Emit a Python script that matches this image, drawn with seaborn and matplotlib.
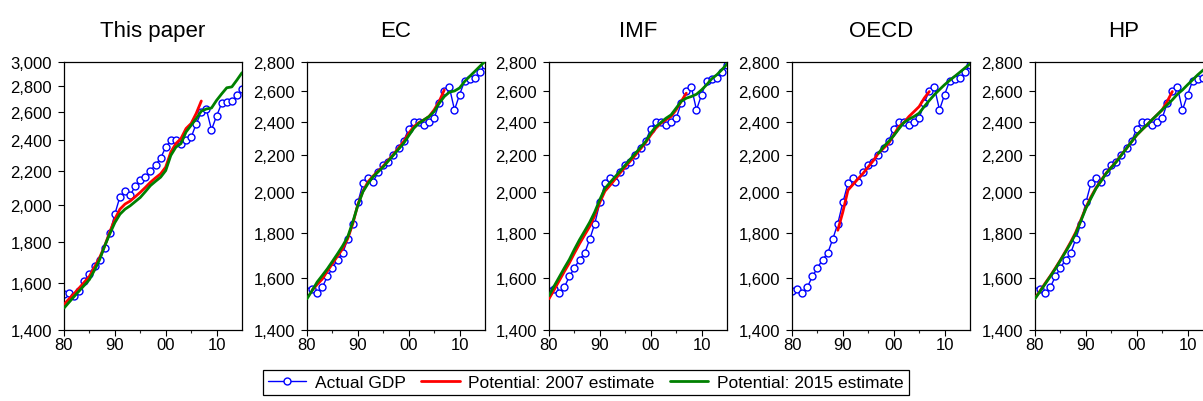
import numpy as np
import pandas as pd
import seaborn as sns
import matplotlib.pyplot as plt
from matplotlib.ticker import FixedLocator, FuncFormatter, NullLocator

# ============================================================
# Data
# ============================================================

years = list(range(1980, 2016))

actual_gdp = [1550, 1557, 1540, 1563, 1608, 1643, 1680, 1707, 1770, 1843,
              1947, 2045, 2076, 2054, 2106, 2145, 2162, 2201, 2240, 2282,
              2355, 2400, 2400, 2379, 2400, 2421, 2517, 2601, 2622, 2474,
              2573, 2667, 2681, 2685, 2728, 2776]

# This paper
paper_2007 = [1505, 1530, 1553, 1578, 1604, 1631, 1675, 1720, 1778, 1850,
              1919, 1974, 2003, 2020, 2045, 2071, 2100, 2131, 2158, 2183,
              2225, 2322, 2379, 2413, 2483, 2519, 2592, 2685]
paper_2015 = [1490, 1515, 1540, 1565, 1590, 1616, 1660, 1710, 1778, 1840,
              1900, 1946, 1974, 1993, 2017, 2041, 2075, 2111, 2137, 2162,
              2203, 2300, 2355, 2379, 2459, 2506, 2554, 2609, 2625, 2632,
              2690, 2740, 2788, 2795, 2850, 2910]

# EC
ec_2007 = [1552, 1575, 1597, 1630, 1662, 1695, 1727, 1773, 1843, 1937,
           2005, 2054, 2085, 2112, 2140, 2172, 2205, 2242, 2279, 2329,
           2369, 2394, 2411, 2432, 2474, 2529, 2605]
ec_2015 = [1518, 1550, 1585, 1612, 1640, 1672, 1705, 1740, 1781, 1851,
           1933, 2002, 2045, 2081, 2108, 2135, 2168, 2201, 2235, 2269,
           2314, 2359, 2390, 2411, 2432, 2463, 2517, 2561, 2590, 2598,
           2618, 2663, 2698, 2733, 2769, 2805]

# IMF
imf_2007 = [1518, 1553, 1590, 1628, 1665, 1708, 1750, 1790, 1830, 1882,
            1948, 2005, 2035, 2068, 2102, 2135, 2168, 2201, 2237, 2273,
            2318, 2359, 2390, 2411, 2432, 2474, 2529, 2583]
imf_2015 = [1530, 1568, 1605, 1643, 1680, 1725, 1768, 1808, 1850, 1900,
            1962, 2019, 2050, 2081, 2112, 2145, 2178, 2211, 2245, 2279,
            2329, 2369, 2394, 2421, 2442, 2485, 2529, 2550, 2561, 2576,
            2605, 2640, 2681, 2709, 2745, 2786]

# OECD (shorter estimates)
oecd_2007 = [1812, 1900, 2010, 2040, 2070, 2100, 2135, 2170, 2212, 2240,
             2269, 2318, 2369, 2394, 2432, 2463, 2495, 2550, 2594]
oecd_2015 = [2211, 2249, 2280, 2314, 2355, 2394, 2415, 2432, 2453, 2495,
             2535, 2573, 2607, 2640, 2670, 2698, 2727, 2757, 2786]

# HP
hp_2007 = [1520, 1549, 1580, 1610, 1643, 1678, 1716, 1757, 1802, 1860,
           1922, 1975, 2022, 2062, 2101, 2133, 2165, 2203, 2240, 2279,
           2318, 2349, 2379, 2411, 2442, 2474, 2529, 2594]
hp_2015 = [1518, 1547, 1577, 1608, 1640, 1676, 1713, 1752, 1796, 1855,
           1917, 1968, 2019, 2058, 2099, 2131, 2163, 2201, 2240, 2279,
           2318, 2349, 2379, 2411, 2442, 2474, 2506, 2539, 2576, 2605,
           2640, 2674, 2709, 2740, 2769, 2805]

panel_titles = ["This paper", "EC", "IMF", "OECD", "HP"]
panel_2007 = [(1980, paper_2007), (1981, ec_2007), (1980, imf_2007),
              (1989, oecd_2007), (1980, hp_2007)]
panel_2015 = [(1980, paper_2015), (1980, ec_2015), (1980, imf_2015),
              (1997, oecd_2015), (1980, hp_2015)]
panel_ymax = [3000, 2800, 2800, 2800, 2800]

series_labels = ["Actual GDP", "Potential: 2007 estimate", "Potential: 2015 estimate"]

# ============================================================
# Plot
# ============================================================

sns.set_style("ticks")
plt.rcParams['font.family'] = ['Liberation Sans', 'DejaVu Sans']
plt.rcParams['text.color'] = 'black'

W, H = 1203, 402
fig = plt.figure(figsize=(W / 100, H / 100), dpi=100)

lefts = [64, 307, 549, 792, 1035]
for i, left in enumerate(lefts):
    ax = fig.add_axes([left / W, 1 - 331 / H, 178 / W, 268 / H])

    sns.lineplot(x=years, y=actual_gdp, ax=ax, color='#0000FF', lw=1.0,
                 marker='o', markersize=5, markerfacecolor='white',
                 markeredgecolor='#0000FF', markeredgewidth=1.0, zorder=2)
    start, vals = panel_2007[i]
    sns.lineplot(x=list(range(start, start + len(vals))), y=vals, ax=ax,
                 color='#FF0000', lw=2.0, zorder=3)
    start, vals = panel_2015[i]
    sns.lineplot(x=list(range(start, start + len(vals))), y=vals, ax=ax,
                 color='#008000', lw=2.0, zorder=4)

    ax.set_yscale('log')
    ax.set_ylim(1400, panel_ymax[i])
    ax.yaxis.set_major_locator(FixedLocator(list(range(1400, panel_ymax[i] + 1, 200))))
    ax.yaxis.set_minor_locator(NullLocator())
    ax.yaxis.set_major_formatter(FuncFormatter(lambda v, p: f"{v:,.0f}"))

    ax.set_xlim(1980, 2015)
    ax.xaxis.set_major_locator(FixedLocator([1980, 1990, 2000, 2010]))
    ax.xaxis.set_minor_locator(FixedLocator([1985, 1995, 2005]))
    ax.xaxis.set_major_formatter(FuncFormatter(lambda v, p: f"{int(v) % 100:02d}"))

    ax.tick_params(axis='both', which='major', direction='out', length=4.5,
                   width=0.8, labelsize=12, color='black', labelcolor='black')
    ax.tick_params(axis='y', which='major', pad=4)
    ax.tick_params(axis='x', which='major', pad=0.5)
    ax.tick_params(axis='x', which='minor', direction='out', length=2.5, width=0.8)
    for sp in ax.spines.values():
        sp.set_visible(True)
        sp.set_color('black')
        sp.set_linewidth(0.9)
    ax.set_xlabel("")
    ax.set_ylabel("")
    ax.set_title(panel_titles[i], fontsize=16, pad=19, color='black')

    if i == 0:
        handles = ax.get_lines()[:3]

leg = fig.legend(handles, series_labels, loc='center', bbox_to_anchor=(0.487, 0.046),
                 ncol=3, frameon=True, fancybox=False, edgecolor='black',
                 fontsize=12.5, handlelength=2.2, columnspacing=0.9, borderpad=0.3,
                 handletextpad=0.5, borderaxespad=0, framealpha=1)
leg.get_frame().set_linewidth(0.9)
for t in leg.get_texts():
    t.set_color('black')

fig.savefig("out.png", dpi=100)
